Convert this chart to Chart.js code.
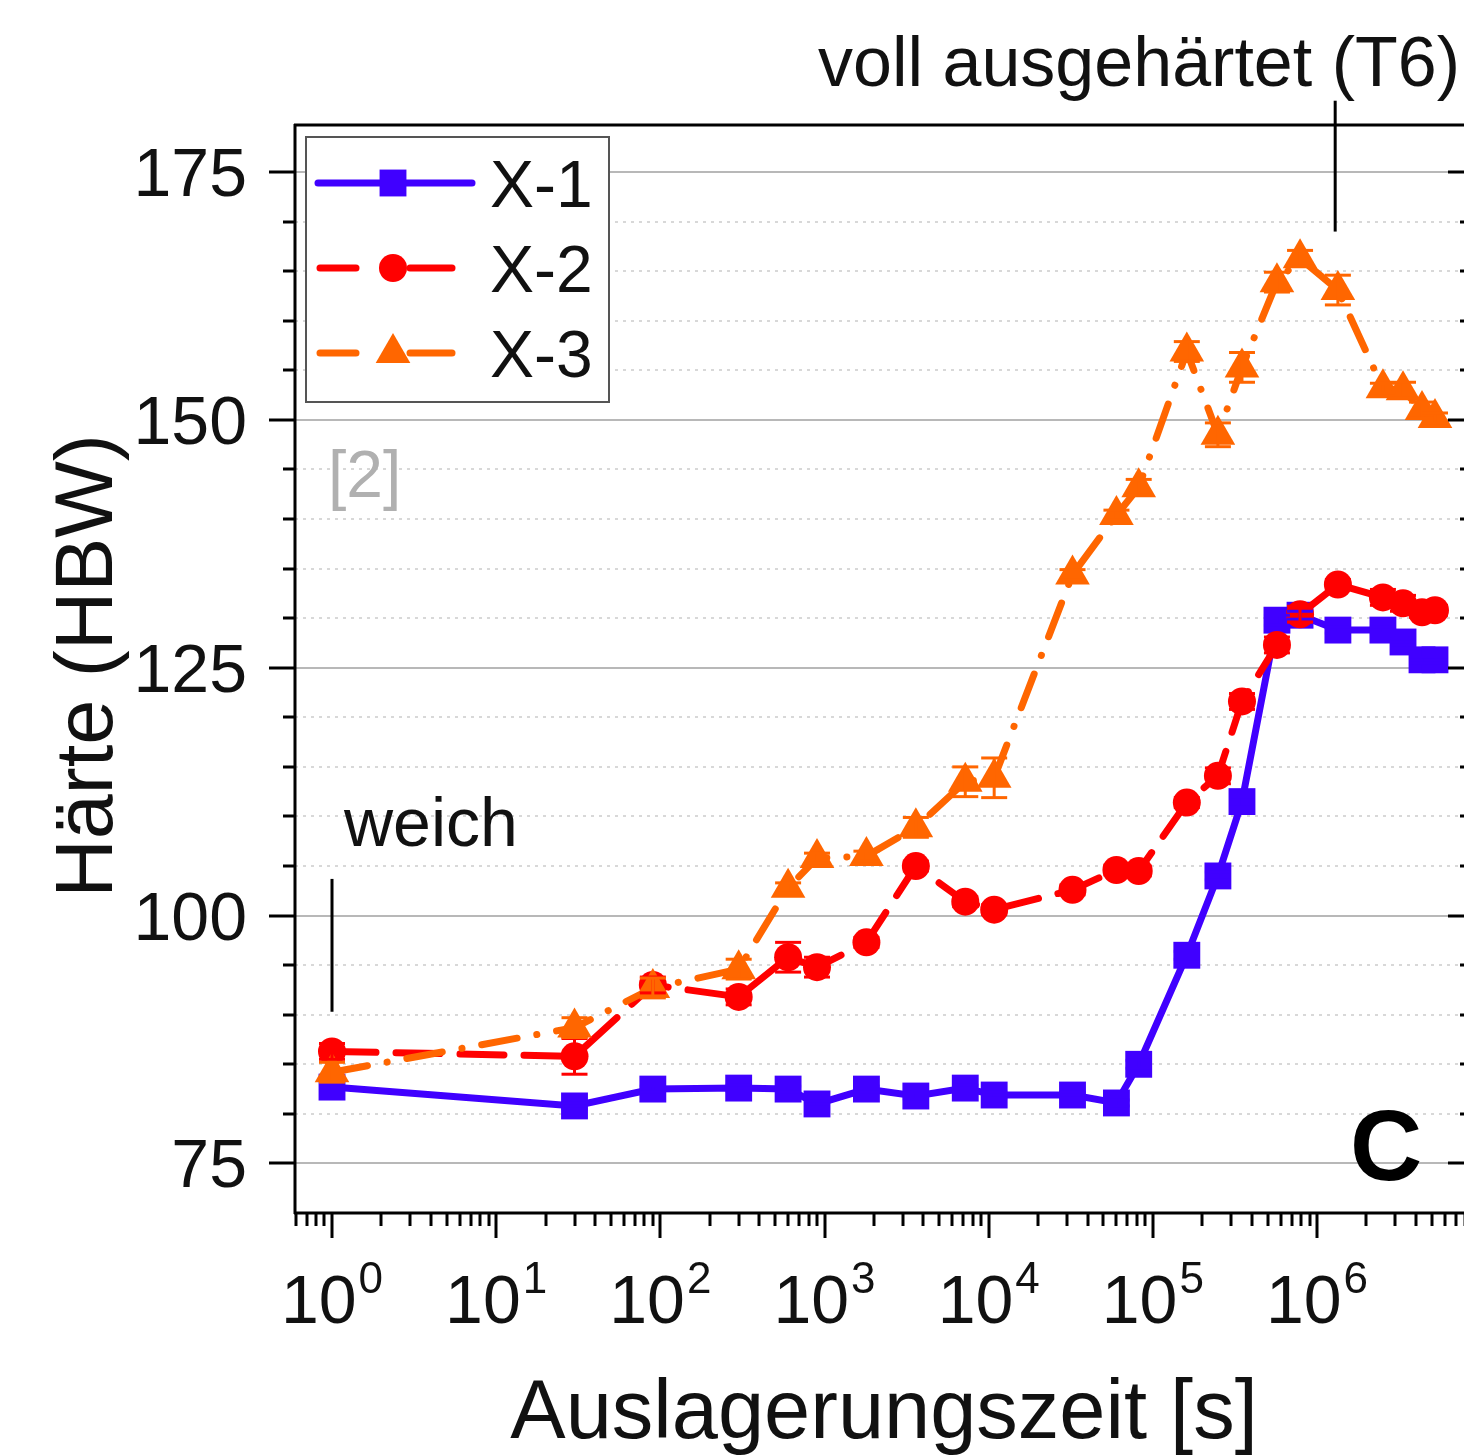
<!DOCTYPE html>
<html lang="de">
<head>
<meta charset="utf-8">
<title>Härte über Auslagerungszeit</title>
<script src="https://cdn.jsdelivr.net/npm/chart.js@4.4.1/dist/chart.umd.min.js"></script>
<style>
    html, body { margin: 0; padding: 0; background: #fff; overflow: hidden; }
    #wrap { width: 1470px; height: 1455px; }
</style>
</head>
<body>
<div id="wrap"><canvas id="hardnessChart" width="1470" height="1455"></canvas></div>
<script>
// aging times in seconds, shared by all three alloys
const times = [1, 30, 90, 300, 600, 900, 1800, 3600, 7200, 10800, 32400, 60000, 82000,
    161000, 249000, 349000, 570000, 788000, 1340000, 2520000, 3340000, 4360000, 5230000];

const x1Values = [82.7, 80.8, 82.5, 82.6, 82.5, 81.0, 82.5, 81.8, 82.6, 81.9, 81.9, 81.1, 85.0,
    96.0, 104.0, 111.5, 129.8, 130.3, 128.8, 128.8, 127.6, 125.8, 125.8];
const x2Values = [86.3, 85.8, 93.0, 91.8, 95.8, 94.8, 97.3, 105.0, 101.4, 100.6, 102.6, 104.6, 104.5,
    111.4, 114.1, 121.6, 127.3, 130.4, 133.4, 132.1, 131.5, 130.6, 130.8];
const x3Values = [84.2, 88.7, 92.7, 94.6, 102.8, 105.8, 106.0, 108.9, 113.5, 113.9, 134.4, 140.4, 143.2,
    156.9, 148.5, 155.3, 163.9, 166.3, 163.1, 153.2, 153.0, 151.0, 150.2];

// half widths of the error bars (HBW)
const x1Errors = [0.4, 0.3, 0.3, 0.3, 0.3, 0.3, 0.3, 0.3, 0.3, 0.3, 0.3, 0.3, 0.4,
    0.4, 0.4, 0.5, 0.5, 0.4, 0.3, 0.3, 0.3, 0.3, 0.3];
const x2Errors = [0.8, 1.8, 0.8, 0.8, 1.5, 1.0, 0.5, 0.5, 0.5, 0.5, 0.5, 0.5, 0.5,
    0.5, 0.8, 0.8, 0.8, 0.8, 0.5, 0.8, 0.8, 0.5, 0.5];
const x3Errors = [1.0, 1.0, 1.0, 1.0, 0.5, 0.5, 0.5, 1.0, 1.5, 2.0, 0.5, 0.5, 0.8,
    1.0, 1.2, 1.5, 1.0, 0.8, 1.5, 0.5, 0.8, 0.8, 0.5];

const seriesNames = ['X-1', 'X-2', 'X-3'];
const yTicks = [75, 100, 125, 150, 175];
const xTickPowers = [0, 1, 2, 3, 4, 5, 6];

const FONT = '"Liberation Sans", Arial, Helvetica, sans-serif';

function makeSet(label, values, errors, color, style, radius, dash, order) {
    return {
        label: label,
        data: times.map((t, i) => ({ x: t, y: values[i] })),
        errors: errors,
        borderColor: color,
        backgroundColor: color,
        borderWidth: 7,
        borderDash: dash,
        borderCapStyle: 'round',
        pointStyle: style,
        pointRadius: radius,
        pointBackgroundColor: color,
        pointBorderColor: color,
        pointBorderWidth: 0,
        tension: 0,
        fill: false,
        order: order
    };
}

function strokeLine(ctx, x1, y1, x2, y2) {
    ctx.beginPath();
    ctx.moveTo(x1, y1);
    ctx.lineTo(x2, y2);
    ctx.stroke();
}

const framePlugin = {
    id: 'frame',
    beforeDatasetsDraw(chart) {
        const { ctx, chartArea: a, scales: { y } } = chart;
        ctx.save();
        ctx.lineWidth = 2;
        for (let v = 75; v <= 175; v += 5) {
            const py = Math.round(y.getPixelForValue(v));
            if (v % 25 === 0) {
                ctx.strokeStyle = '#b8b8b8';
                ctx.setLineDash([]);
            } else {
                ctx.strokeStyle = '#d8d8d8';
                ctx.setLineDash([3, 5]);
            }
            strokeLine(ctx, a.left, py, a.right, py);
        }
        ctx.restore();
    },
    afterDatasetsDraw(chart) {
        const { ctx, chartArea: a, scales: { x, y } } = chart;
        ctx.save();

        // error bars
        chart.data.datasets.forEach(ds => {
            ctx.strokeStyle = ds.borderColor;
            ctx.lineWidth = 3;
            ds.data.forEach((p, i) => {
                const e = ds.errors[i];
                const px = x.getPixelForValue(p.x);
                const top = y.getPixelForValue(p.y + e);
                const bot = y.getPixelForValue(p.y - e);
                strokeLine(ctx, px, top, px, bot);
                strokeLine(ctx, px - 13, top, px + 13, top);
                strokeLine(ctx, px - 13, bot, px + 13, bot);
            });
        });

        // frame
        ctx.strokeStyle = '#000';
        ctx.lineWidth = 3;
        strokeLine(ctx, a.left, a.top - 1, a.left, a.bottom + 1);
        strokeLine(ctx, a.left - 1, a.bottom, a.right, a.bottom);
        strokeLine(ctx, a.left - 1, a.top, a.right, a.top);
        strokeLine(ctx, a.right, a.top, a.right, a.bottom);

        // y ticks, left outside and right inside
        for (let v = 75; v <= 175; v += 5) {
            const py = Math.round(y.getPixelForValue(v));
            const major = v % 25 === 0;
            strokeLine(ctx, a.left - (major ? 26 : 12), py, a.left, py);
            strokeLine(ctx, a.right - (major ? 20 : 8), py, a.right, py);
        }
        ctx.font = '68px ' + FONT;
        ctx.fillStyle = '#111';
        ctx.textAlign = 'right';
        ctx.textBaseline = 'alphabetic';
        yTicks.forEach(v => {
            ctx.fillText(String(v), 247, y.getPixelForValue(v) + 24);
        });

        // x ticks: decades and minor ticks
        for (let k = -1; k <= 6; k++) {
            for (let m = 1; m <= 9; m++) {
                const v = m * Math.pow(10, k);
                if (v < x.min || v > x.max) continue;
                const px = Math.round(x.getPixelForValue(v));
                strokeLine(ctx, px, a.bottom, px, a.bottom + (m === 1 ? 25 : 13));
            }
        }
        ctx.textAlign = 'left';
        xTickPowers.forEach(k => {
            const px = x.getPixelForValue(Math.pow(10, k));
            ctx.font = '68px ' + FONT;
            const w1 = ctx.measureText('10').width;
            ctx.font = '44px ' + FONT;
            const w2 = ctx.measureText(String(k)).width;
            const x0 = px - (w1 + w2 + 2) / 2;
            ctx.font = '68px ' + FONT;
            ctx.fillText('10', x0, 1323);
            ctx.font = '44px ' + FONT;
            ctx.fillText(String(k), x0 + w1 + 2, 1293);
        });

        // axis titles
        ctx.font = '83px ' + FONT;
        ctx.textAlign = 'center';
        ctx.fillText('Auslagerungszeit [s]', 884, 1438);
        ctx.save();
        ctx.translate(112, 666);
        ctx.rotate(-Math.PI / 2);
        ctx.font = '81px ' + FONT;
        ctx.fillText('Härte (HBW)', 0, 0);
        ctx.restore();

        // annotations
        ctx.textAlign = 'left';
        ctx.font = '70px ' + FONT;
        ctx.fillText('voll ausgehärtet (T6)', 818, 86);
        ctx.font = '68px ' + FONT;
        ctx.fillText('weich', 344, 846);
        const t6 = x.getPixelForValue(1.29e6);
        strokeLine(ctx, t6, y.getPixelForValue(182.2), t6, y.getPixelForValue(169));
        const soft = x.getPixelForValue(1);
        strokeLine(ctx, soft, y.getPixelForValue(103.7), soft, y.getPixelForValue(90.3));
        ctx.fillStyle = '#b0b0b0';
        ctx.font = '66px ' + FONT;
        ctx.fillText('[2]', 328, 497);
        ctx.fillStyle = '#000';
        ctx.font = 'bold 100px ' + FONT;
        ctx.fillText('C', 1350, 1180);

        // legend
        ctx.fillStyle = '#fff';
        ctx.fillRect(306, 137, 303, 265);
        ctx.strokeStyle = '#555';
        ctx.lineWidth = 2;
        ctx.strokeRect(306, 137, 303, 265);
        const rows = [183, 268, 353];
        chart.data.datasets.forEach((ds, i) => {
            const ly = rows[i];
            ctx.strokeStyle = ds.borderColor;
            ctx.lineWidth = ds.borderWidth;
            ctx.lineCap = 'round';
            if (ds.borderDash.length) {
                // dashed samples: one dash on each side of the symbol
                strokeLine(ctx, 320, ly, 356, ly);
                strokeLine(ctx, 410, ly, 452, ly);
            } else {
                strokeLine(ctx, 318, ly, 472, ly);
            }
            ctx.fillStyle = ds.borderColor;
            Chart.helpers.drawPoint(ctx, { pointStyle: ds.pointStyle, radius: ds.pointRadius, rotation: 0, borderWidth: 0 }, 393, ly);
            ctx.fillStyle = '#111';
            ctx.font = '66px ' + FONT;
            ctx.fillText(seriesNames[i], 490, ly + 24);
        });

        ctx.restore();
    }
};

const ctx = document.getElementById('hardnessChart').getContext('2d');
const hardnessChart = new Chart(ctx, {
    type: 'line',
    data: {
        datasets: [
            makeSet(seriesNames[0], x1Values, x1Errors, '#4000ff', 'rect', 19, [], 3),
            makeSet(seriesNames[1], x2Values, x2Errors, '#ff0000', 'circle', 14, [44, 20], 2),
            makeSet(seriesNames[2], x3Values, x3Errors, '#ff6600', 'triangle', 20, [36, 20, 0.1, 20], 1)
        ]
    },
    options: {
        responsive: false,
        animation: false,
        layout: { autoPadding: false, padding: { top: 125, right: 2, left: 0, bottom: 0 } },
        plugins: {
            legend: { display: false },
            tooltip: { enabled: false }
        },
        scales: {
            x: {
                type: 'logarithmic',
                min: 0.5951,
                max: 8.31e6,
                grid: { display: false },
                border: { display: false },
                ticks: { display: false },
                afterFit: scale => { scale.height = 242; }
            },
            y: {
                min: 70,
                max: 179.75,
                grid: { display: false },
                border: { display: false },
                ticks: { display: false },
                afterFit: scale => { scale.width = 295; }
            }
        }
    },
    plugins: [framePlugin]
});
</script>
</body>
</html>
